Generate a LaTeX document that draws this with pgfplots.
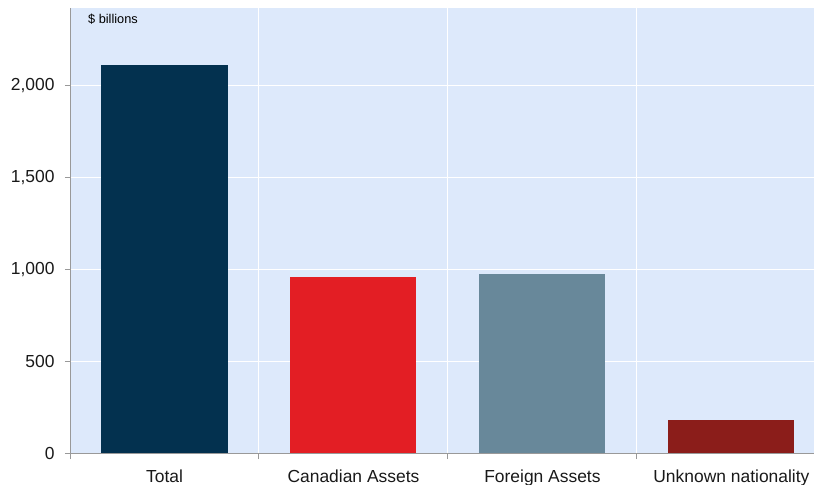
\documentclass[border=0pt]{standalone}
\usepackage{pgfplots}
\pgfplotsset{compat=1.18}
\usepackage{fontspec}
\setmainfont{Liberation Sans}
\definecolor{plotbg}{HTML}{DDE9FB}
\definecolor{cTotal}{HTML}{03314F}
\definecolor{cCan}{HTML}{E31E24}
\definecolor{cFor}{HTML}{68889A}
\definecolor{cUnk}{HTML}{8B1D1A}
\definecolor{axgray}{HTML}{999999}
\begin{document}
\begin{tikzpicture}
\path[use as bounding box] (-70bp,-32bp) rectangle (744bp,445bp+8bp);
\begin{axis}[
	at={(0,0)}, anchor=south west,
	scale only axis,
	width=744bp, height=445bp,
	xmin=-0.5, xmax=3.437,
	ymin=0, ymax=2420,
	axis background/.style={fill=plotbg},
	axis x line*=bottom,
	axis y line*=left,
	axis line style={axgray, line width=1pt},
	xtick={0,1,2,3},
	xticklabels={Total, Canadian Assets, Foreign Assets, Unknown nationality},
	major x tick style={draw=none},
	minor xtick={-0.5,0.5,1.5,2.5},
	minor x tick style={axgray, line width=1pt},
	minor tick length=6bp,
	xminorgrids=true,
	minor x grid style={white, line width=1pt},
	ytick={0,500,1000,1500,2000},
	ymajorgrids=true,
	major y grid style={white, line width=1pt},
	major y tick style={axgray, line width=1pt},
	major tick length=5bp,
	tick align=outside,
	ticklabel style={font=\fontsize{17.5}{20}\selectfont, text=black!90},
	yticklabel style={xshift=-7bp},
	xticklabel style={yshift=-8bp},
	/pgf/number format/assume math mode=true,
	/pgf/number format/1000 sep={,},
	scaled y ticks=false,
	ybar, bar width=0.667, bar shift=0pt,
	clip=true,
]
\addplot[fill=cTotal, draw=none] coordinates {(0,2110)};
\addplot[fill=cCan, draw=none] coordinates {(1,955)};
\addplot[fill=cFor, draw=none] coordinates {(2,975)};
\addplot[fill=cUnk, draw=none] coordinates {(3,180)};
\node[anchor=north west, inner sep=0pt, font=\fontsize{12.8}{15}\selectfont]
	at ([xshift=18bp, yshift=-6bp]rel axis cs:0,1) {\$ billions};
\end{axis}
\end{tikzpicture}
\end{document}
